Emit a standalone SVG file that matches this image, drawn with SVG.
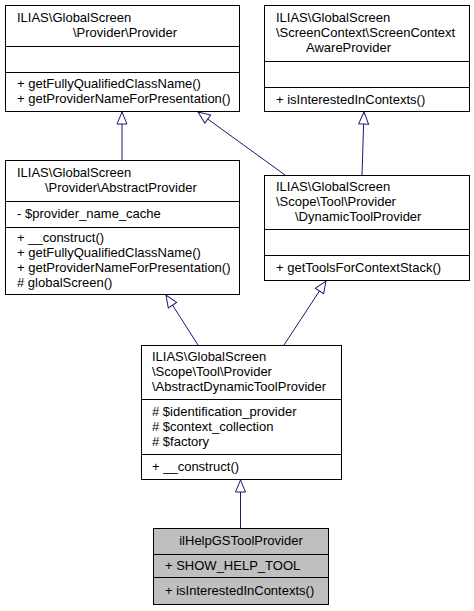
<svg xmlns="http://www.w3.org/2000/svg" width="474" height="611" viewBox="0 0 474 611">
<style>
.box{fill:#ffffff;stroke:#000000;stroke-width:1}
.focus{fill:#bfbfbf;stroke:#000000;stroke-width:1}
.div{stroke:#000000;stroke-width:1}
text{font-family:"Liberation Sans",Arial,Helvetica,sans-serif;font-size:13px;fill:#000000}
.edge{stroke:#191970;stroke-width:1;fill:none;marker-end:url(#inh)}
</style>
<defs>
<marker id="inh" viewBox="0 0 14 12" refX="13" refY="6" markerWidth="14" markerHeight="12" markerUnits="userSpaceOnUse" orient="auto">
<path d="M1,1 L13,6 L1,11 Z" fill="#ffffff" stroke="#191970" stroke-width="1"/>
</marker>
</defs>
<rect width="474" height="611" fill="#ffffff"/>
<g id="connectors">
<line class="edge" x1="122" y1="160" x2="122" y2="112"/>
<line class="edge" x1="285" y1="175" x2="198" y2="112"/>
<line class="edge" x1="362" y1="175" x2="364" y2="112"/>
<line class="edge" x1="198" y1="345" x2="166" y2="295"/>
<line class="edge" x1="284" y1="345" x2="326" y2="281"/>
<line class="edge" x1="240.5" y1="528" x2="240.5" y2="480"/>
</g>
<g id="Provider">
<rect class="box" x="5.5" y="5.5" width="234" height="106"/>
<line class="div" x1="5.5" y1="46.5" x2="239.5" y2="46.5"/>
<line class="div" x1="5.5" y1="72.5" x2="239.5" y2="72.5"/>
<text x="17" y="22">ILIAS\GlobalScreen</text>
<text x="73" y="37">\Provider\Provider</text>
<text x="17" y="88">+ getFullyQualifiedClassName()</text>
<text x="17" y="103">+ getProviderNameForPresentation()</text>
</g>
<g id="ScreenContextAwareProvider">
<rect class="box" x="264.5" y="5.5" width="205" height="106"/>
<line class="div" x1="264.5" y1="61.5" x2="469.5" y2="61.5"/>
<line class="div" x1="264.5" y1="87.5" x2="469.5" y2="87.5"/>
<text x="276" y="22">ILIAS\GlobalScreen</text>
<text x="276" y="37">\ScreenContext\ScreenContext</text>
<text x="306" y="52">AwareProvider</text>
<text x="276" y="104">+ isInterestedInContexts()</text>
</g>
<g id="AbstractProvider">
<rect class="box" x="5.5" y="160.5" width="234" height="134"/>
<line class="div" x1="5.5" y1="201.5" x2="239.5" y2="201.5"/>
<line class="div" x1="5.5" y1="227.5" x2="239.5" y2="227.5"/>
<text x="17" y="177">ILIAS\GlobalScreen</text>
<text x="45" y="192">\Provider\AbstractProvider</text>
<text x="17" y="218">- $provider_name_cache</text>
<text x="17" y="242">+ __construct()</text>
<text x="17" y="257">+ getFullyQualifiedClassName()</text>
<text x="17" y="272">+ getProviderNameForPresentation()</text>
<text x="17" y="287"># globalScreen()</text>
</g>
<g id="DynamicToolProvider">
<rect class="box" x="264.5" y="175.5" width="205" height="105"/>
<line class="div" x1="264.5" y1="229.5" x2="469.5" y2="229.5"/>
<line class="div" x1="264.5" y1="255.5" x2="469.5" y2="255.5"/>
<text x="276" y="191">ILIAS\GlobalScreen</text>
<text x="276" y="206">\Scope\Tool\Provider</text>
<text x="295" y="221">\DynamicToolProvider</text>
<text x="276" y="272">+ getToolsForContextStack()</text>
</g>
<g id="AbstractDynamicToolProvider">
<rect class="box" x="141.5" y="345.5" width="200" height="134"/>
<line class="div" x1="141.5" y1="399.5" x2="341.5" y2="399.5"/>
<line class="div" x1="141.5" y1="454.5" x2="341.5" y2="454.5"/>
<text x="152" y="361">ILIAS\GlobalScreen</text>
<text x="152" y="376">\Scope\Tool\Provider</text>
<text x="152" y="391">\AbstractDynamicToolProvider</text>
<text x="152" y="416"># $identification_provider</text>
<text x="152" y="431"># $context_collection</text>
<text x="152" y="446"># $factory</text>
<text x="152" y="471">+ __construct()</text>
</g>
<g id="ilHelpGSToolProvider">
<rect class="focus" x="153.5" y="528.5" width="175" height="76"/>
<line class="div" x1="153.5" y1="554.5" x2="328.5" y2="554.5"/>
<line class="div" x1="153.5" y1="577.5" x2="328.5" y2="577.5"/>
<text x="241" y="545" text-anchor="middle">ilHelpGSToolProvider</text>
<text x="165" y="570">+ SHOW_HELP_TOOL</text>
<text x="165" y="595">+ isInterestedInContexts()</text>
</g>
</svg>
